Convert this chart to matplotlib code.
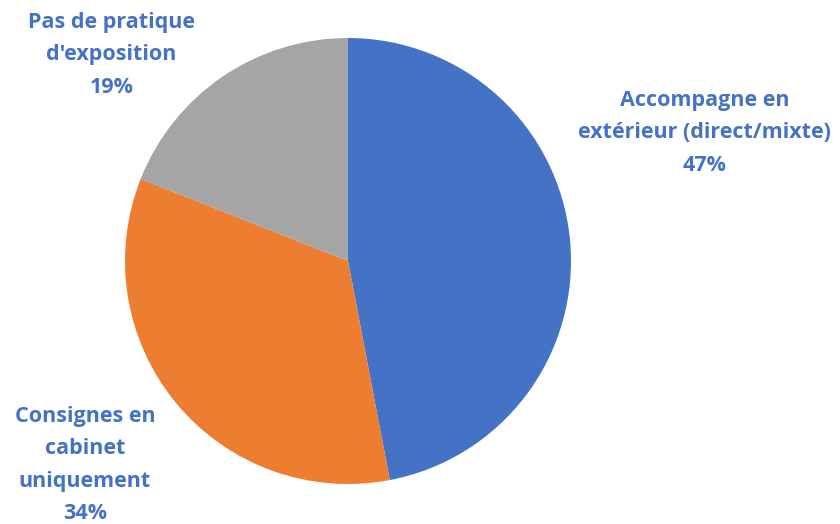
import matplotlib.pyplot as plt

# parts of patients by exposure practice
labels = ["Accompagne en\nextérieur (direct/mixte)", "Consignes en\ncabinet\nuniquement", "Pas de pratique\nd'exposition"]
values = [47, 34, 19]
colors = ["#4472C4", "#ED7D31", "#A5A5A5"]

# where each label sits, in pie-radius units
label_pos = [(1.60, 0.575), (-1.18, -0.915), (-1.06, 0.925)]

W, H = 840, 524
fig = plt.figure(figsize=(W / 100, H / 100), dpi=100)
cx, cy, r = 348, 261, 223
ax = fig.add_axes([(cx - r) / W, (H - cy - r) / H, 2 * r / W, 2 * r / H])

ax.pie(values, colors=colors, startangle=90, counterclock=False,
       radius=1, wedgeprops=dict(linewidth=0))

for lab, v, (x, y) in zip(labels, values, label_pos):
    ax.text(x, y, f"{lab}\n{v}%", ha="center", va="center", color="#4472C4",
            fontsize=15.5, fontweight="bold", family="Open Sans", linespacing=1.72,
            clip_on=False)

ax.set_xlim(-1, 1)
ax.set_ylim(-1, 1)
ax.set_aspect("equal")
ax.axis("off")

fig.savefig("out.png", dpi=100)
